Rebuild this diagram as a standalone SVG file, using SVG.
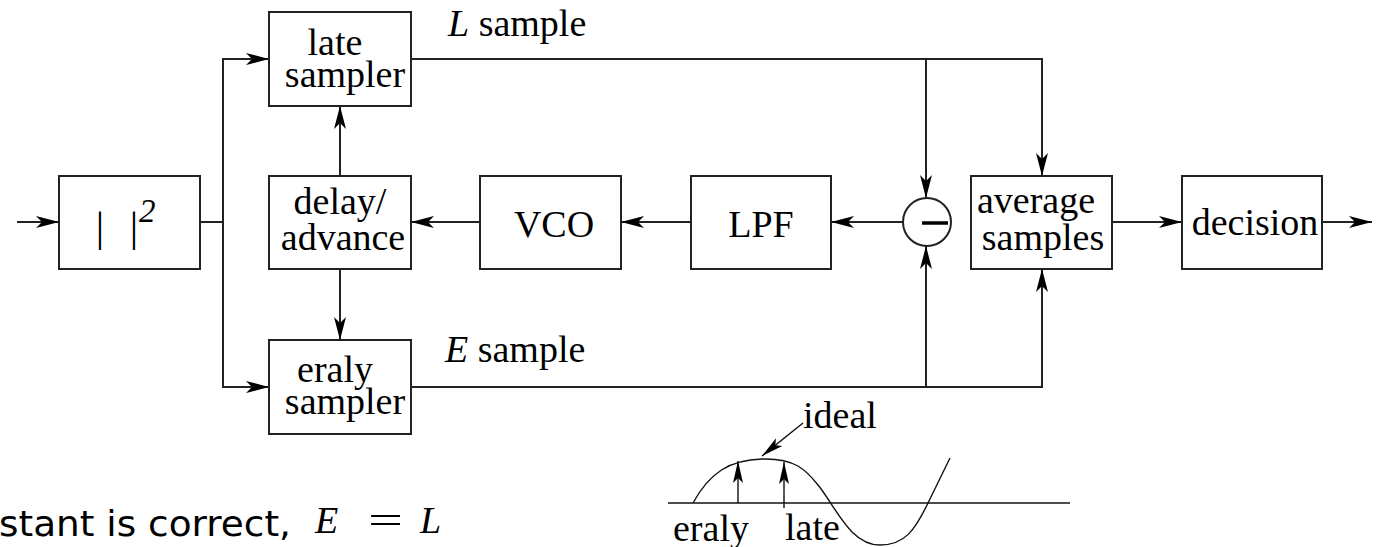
<svg xmlns="http://www.w3.org/2000/svg" width="1380" height="547" viewBox="0 0 1380 547">
  <style>
    .box { fill: #fff; stroke: #222; stroke-width: 2; }
    .wire { fill: none; stroke: #222; stroke-width: 2; }
    .thin { fill: none; stroke: #111; stroke-width: 1.4; }
    .lbl { font-family: "Liberation Serif", "Times New Roman", serif; font-size: 38px; fill: #000; }
    .mid { text-anchor: middle; }
    .it { font-style: italic; }
    .sans { font-family: "DejaVu Sans", "Open Sans", sans-serif; font-size: 35px; fill: #000; }
  </style>
  <defs>
    <!-- notched arrowheads, LaTeX picture style -->
    <marker id="arr" markerUnits="userSpaceOnUse" markerWidth="26" markerHeight="16" refX="23" refY="8" orient="auto">
      <path d="M23,8 L0,2 L6,8 L0,14 Z" fill="#000"/>
    </marker>
    <marker id="arrS" markerUnits="userSpaceOnUse" markerWidth="24" markerHeight="16" refX="22" refY="8" orient="auto">
      <path d="M22,8 L0,3 L5,8 L0,13 Z" fill="#000"/>
    </marker>
  </defs>

  <!-- connectors -->
  <g id="connectors">
    <line class="wire" x1="17" y1="222" x2="59" y2="222" marker-end="url(#arr)"/>
    <polyline class="wire" points="200,222 223,222"/>
    <polyline class="wire" points="223,222 223,59 269,59" marker-end="url(#arr)"/>
    <polyline class="wire" points="223,222 223,387 269,387" marker-end="url(#arr)"/>
    <line class="wire" x1="340" y1="176" x2="340" y2="106" marker-end="url(#arr)"/>
    <line class="wire" x1="340" y1="269" x2="340" y2="340" marker-end="url(#arr)"/>
    <line class="wire" x1="480" y1="222" x2="411" y2="222" marker-end="url(#arr)"/>
    <line class="wire" x1="691" y1="222" x2="621" y2="222" marker-end="url(#arr)"/>
    <line class="wire" x1="903" y1="222" x2="831" y2="222" marker-end="url(#arr)"/>
    <polyline class="wire" points="411,59 1042,59 1042,176" marker-end="url(#arr)"/>
    <line class="wire" x1="926" y1="59" x2="926" y2="198" marker-end="url(#arr)"/>
    <polyline class="wire" points="411,387 1042,387 1042,269" marker-end="url(#arr)"/>
    <line class="wire" x1="926" y1="387" x2="926" y2="246" marker-end="url(#arr)"/>
    <line class="wire" x1="1112" y1="222" x2="1182" y2="222" marker-end="url(#arr)"/>
    <line class="wire" x1="1322" y1="222" x2="1372" y2="222" marker-end="url(#arr)"/>
  </g>

  <!-- squaring block -->
  <g id="square">
    <rect class="box" x="59" y="176" width="141" height="93"/>
    <text class="lbl" x="100" y="241" style="font-size:42px" text-anchor="middle">|</text>
    <text class="lbl" x="134" y="241" style="font-size:42px" text-anchor="middle">|</text>
    <text class="lbl it" x="139" y="222" style="font-size:33px">2</text>
  </g>

  <g id="late-sampler">
    <rect class="box" x="269" y="12" width="142" height="94"/>
    <text class="lbl mid" x="335" y="55">late</text>
    <text class="lbl mid" x="345" y="87">sampler</text>
  </g>

  <g id="delay-advance">
    <rect class="box" x="269" y="176" width="142" height="93"/>
    <text class="lbl mid" x="340" y="214">delay/</text>
    <text class="lbl mid" x="343" y="250">advance</text>
  </g>

  <g id="early-sampler">
    <rect class="box" x="269" y="340" width="142" height="94"/>
    <text class="lbl mid" x="335" y="382">eraly</text>
    <text class="lbl mid" x="345" y="414">sampler</text>
  </g>

  <g id="vco">
    <rect class="box" x="480" y="176" width="141" height="93"/>
    <text class="lbl mid" x="554" y="237">VCO</text>
  </g>

  <g id="lpf">
    <rect class="box" x="691" y="176" width="140" height="93"/>
    <text class="lbl mid" x="761" y="237">LPF</text>
  </g>

  <g id="subtractor">
    <circle cx="927" cy="222" r="24" fill="#fff" stroke="#222" stroke-width="2"/>
    <line x1="922" y1="223" x2="948" y2="223" stroke="#000" stroke-width="3.5"/>
  </g>

  <g id="average-samples">
    <rect class="box" x="971" y="176" width="141" height="93"/>
    <text class="lbl mid" x="1036" y="213">average</text>
    <text class="lbl mid" x="1043" y="250">samples</text>
  </g>

  <g id="decision">
    <rect class="box" x="1182" y="176" width="140" height="93"/>
    <text class="lbl mid" x="1255" y="235">decision</text>
  </g>

  <!-- sample labels -->
  <g id="labels">
    <text class="lbl" x="448" y="36"><tspan class="it">L</tspan> sample</text>
    <text class="lbl" x="445" y="362"><tspan class="it">E</tspan> sample</text>
  </g>

  <!-- sampling-instant sketch -->
  <g id="waveform">
    <line class="thin" x1="668" y1="503" x2="1070" y2="503"/>
    <path class="thin" d="M693,503 C710,472 730,460 762,459 C795,458 806,470 818,485 C836,507 850,545 880,545 C905,545 915,530 928,503 L950,458"/>
    <line class="thin" x1="738" y1="503" x2="738" y2="461" marker-end="url(#arrS)"/>
    <line class="thin" x1="784" y1="508" x2="784" y2="462" marker-end="url(#arrS)"/>
    <line class="thin" x1="803" y1="423" x2="762" y2="456" marker-end="url(#arrS)"/>
    <text class="lbl" x="803" y="428">ideal</text>
    <text class="lbl" x="673" y="541">eraly</text>
    <text class="lbl" x="785" y="540">late</text>
  </g>

  <!-- caption fragment -->
  <g id="caption">
    <text class="sans" x="-1" y="536" textLength="292" lengthAdjust="spacingAndGlyphs">stant is correct,</text>
    <text class="lbl it" x="315" y="533">E</text>
    <text class="lbl" x="368" y="533" textLength="35" lengthAdjust="spacingAndGlyphs">=</text>
    <text class="lbl it" x="420" y="533">L</text>
  </g>
</svg>
